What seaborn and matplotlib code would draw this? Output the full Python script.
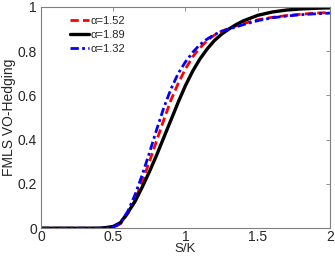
import numpy as np
import pandas as pd
import seaborn as sns
import matplotlib
matplotlib.use("Agg")
import matplotlib.pyplot as plt

# S/K grid
sk = [0.0, 0.1, 0.2, 0.3, 0.4, 0.45, 0.5, 0.55, 0.6, 0.65, 0.7, 0.75, 0.8, 0.85, 0.9, 0.95,
      1.0, 1.05, 1.1, 1.15, 1.2, 1.25, 1.3, 1.35, 1.4, 1.5, 1.6, 1.7, 1.8, 1.9, 2.0]

# alpha = 1.52 (red dashed)
red = [0, 0, 0, 0, 0, 0.0, 0.003, 0.02, 0.065, 0.125, 0.21, 0.30, 0.395, 0.49, 0.58, 0.655,
       0.72, 0.775, 0.815, 0.848, 0.873, 0.89, 0.903, 0.914, 0.924, 0.942, 0.953, 0.961, 0.967, 0.972, 0.975]

# alpha = 1.89 (black solid)
black = [0, 0, 0, 0, 0.0, 0.003, 0.008, 0.025, 0.07, 0.12, 0.185, 0.255, 0.33, 0.41, 0.49, 0.57,
         0.645, 0.71, 0.765, 0.81, 0.848, 0.877, 0.9, 0.92, 0.937, 0.962, 0.977, 0.986, 0.991, 0.994, 0.996]

# alpha = 1.32 (blue dash-dot)
blue = [0, 0, 0, 0, 0, 0.0, 0.004, 0.025, 0.075, 0.15, 0.24, 0.34, 0.445, 0.545, 0.63, 0.70,
        0.752, 0.795, 0.83, 0.855, 0.875, 0.89, 0.90, 0.91, 0.92, 0.938, 0.951, 0.959, 0.965, 0.969, 0.972]

labels = ["α=1.52", "α=1.89", "α=1.32"]

df = pd.DataFrame({"sk": sk, "red": red, "black": black, "blue": blue})

sns.set_style("white")
plt.rcParams["font.family"] = ["Liberation Sans", "DejaVu Sans"]

fig = plt.figure(figsize=(3.35, 2.57), dpi=100)
ax = fig.add_axes([0.1224, 0.112, 0.8626, 0.861])

sns.lineplot(data=df, x="sk", y="red", ax=ax, color="#ff0000", lw=2.0, label=labels[0])
ax.lines[-1].set_dashes([3, 1.5])
sns.lineplot(data=df, x="sk", y="black", ax=ax, color="black", lw=2.4, label=labels[1])
sns.lineplot(data=df, x="sk", y="blue", ax=ax, color="#0000ff", lw=2.0, label=labels[2])
ax.lines[-1].set_dashes([3, 1.2, 1, 1.2])

ax.set_xlim(0, 2)
ax.set_ylim(0, 1)
ax.set_xticks([0, 0.5, 1, 1.5, 2])
ax.set_xticklabels(["0", "0.5", "1", "1.5", "2"])
ax.set_yticks([0, 0.2, 0.4, 0.6, 0.8, 1])
ax.set_yticklabels(["0", "0.2", "0.4", "0.6", "0.8", "1"])
ax.set_xlabel("S/K", fontsize=9.5, labelpad=-1)
ax.set_ylabel("FMLS VO-Hedging", fontsize=10, labelpad=1)

for s in ax.spines.values():
    s.set_color("#7f7f7f")
    s.set_linewidth(0.8)
ax.tick_params(direction="in", length=3, width=0.6, color="#7f7f7f",
               labelsize=10, top=True, right=True)
ax.tick_params(axis="x", pad=1.5)
ax.tick_params(axis="y", pad=3)

leg = ax.legend(loc="upper left", frameon=False, fontsize=8, handlelength=1.7,
                handletextpad=0.15, labelspacing=0.35, borderpad=0, borderaxespad=0,
                bbox_to_anchor=(0.1, 0.96))

fig.savefig("out.png", dpi=100)
